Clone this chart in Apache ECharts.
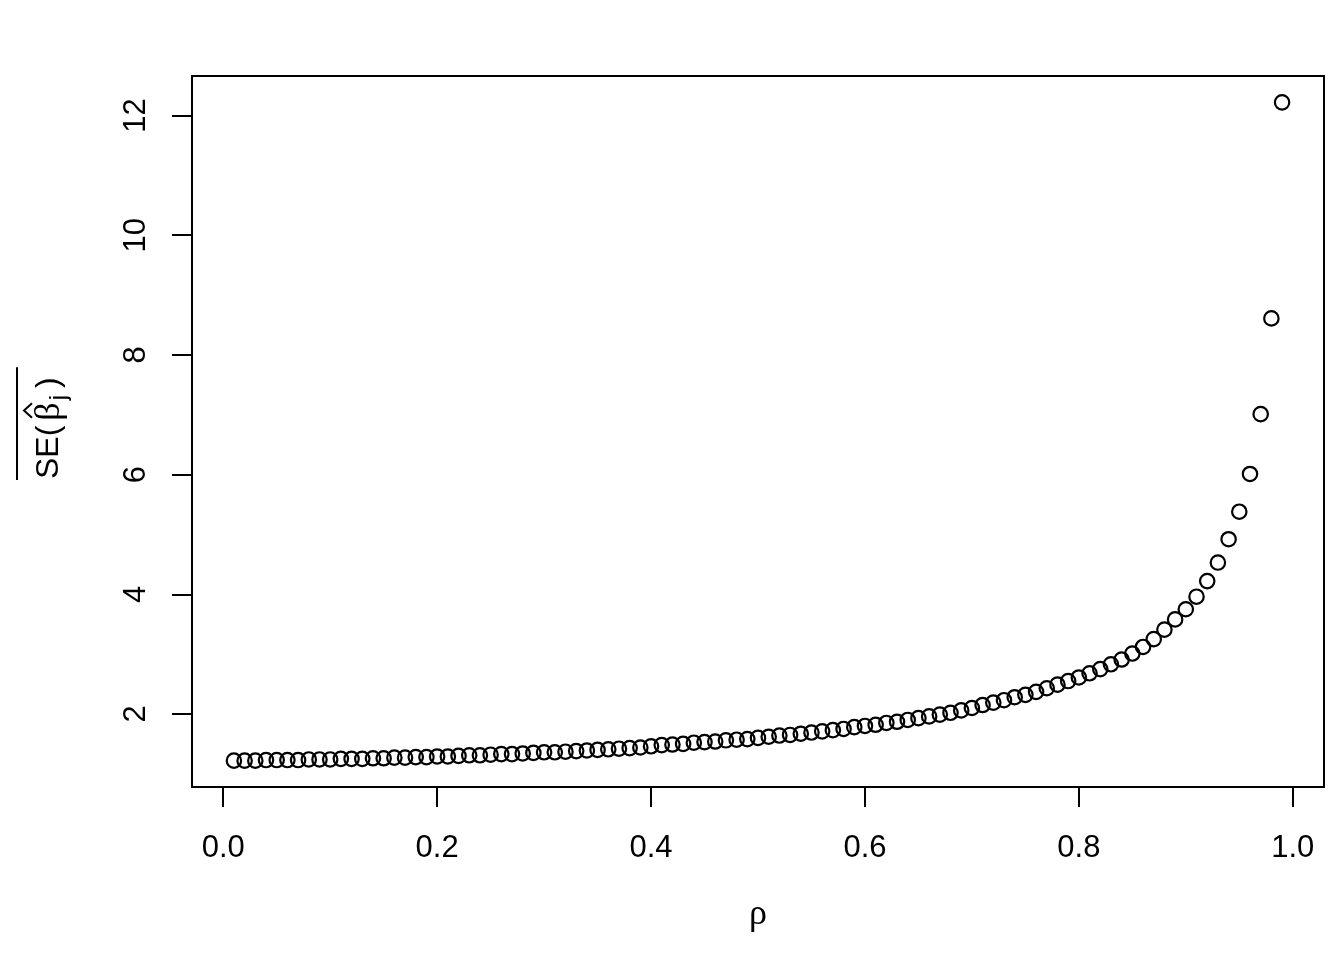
<!DOCTYPE html>
<html>
<head>
<meta charset="utf-8">
<script src="https://cdn.jsdelivr.net/npm/echarts@6/dist/echarts.min.js"></script>
<style>
html,body{margin:0;padding:0;background:#fff;}
#chart{width:1344px;height:960px;}
</style>
</head>
<body>
<div id="chart"></div>
<script>
// ---- data ----
const rho = [0.01,0.02,0.03,0.04,0.05,0.06,0.07,0.08,0.09,0.10,
  0.11,0.12,0.13,0.14,0.15,0.16,0.17,0.18,0.19,0.20,
  0.21,0.22,0.23,0.24,0.25,0.26,0.27,0.28,0.29,0.30,
  0.31,0.32,0.33,0.34,0.35,0.36,0.37,0.38,0.39,0.40,
  0.41,0.42,0.43,0.44,0.45,0.46,0.47,0.48,0.49,0.50,
  0.51,0.52,0.53,0.54,0.55,0.56,0.57,0.58,0.59,0.60,
  0.61,0.62,0.63,0.64,0.65,0.66,0.67,0.68,0.69,0.70,
  0.71,0.72,0.73,0.74,0.75,0.76,0.77,0.78,0.79,0.80,
  0.81,0.82,0.83,0.84,0.85,0.86,0.87,0.88,0.89,0.90,
  0.91,0.92,0.93,0.94,0.95,0.96,0.97,0.98,0.99];
const seMean = [1.22,1.22,1.22,1.23,1.23,1.23,1.23,1.24,1.24,1.24,
  1.25,1.25,1.25,1.26,1.26,1.27,1.27,1.28,1.28,1.29,
  1.29,1.30,1.31,1.31,1.32,1.33,1.33,1.34,1.35,1.36,
  1.36,1.37,1.38,1.39,1.40,1.41,1.42,1.43,1.44,1.46,
  1.48,1.49,1.50,1.52,1.53,1.54,1.56,1.57,1.58,1.60,
  1.62,1.64,1.65,1.67,1.69,1.71,1.73,1.75,1.78,1.80,
  1.82,1.85,1.87,1.90,1.93,1.96,1.99,2.02,2.06,2.10,
  2.15,2.19,2.23,2.28,2.32,2.37,2.43,2.49,2.55,2.61,
  2.68,2.75,2.83,2.91,3.01,3.12,3.25,3.41,3.58,3.75,
  3.96,4.22,4.53,4.92,5.38,6.01,7.01,8.61,12.22];
const xTicks = [0, 0.2, 0.4, 0.6, 0.8, 1.0];
const yTicks = [2, 4, 6, 8, 10, 12];
const xTickLabels = ['0.0', '0.2', '0.4', '0.6', '0.8', '1.0'];
const yTickLabels = ['2', '4', '6', '8', '10', '12'];
const xTitle = 'ρ';

// ---- layout ----
const GRID = {left: 192, top: 76, width: 1132, height: 711};
const FONT = '"Liberation Sans", Arial, Helvetica, sans-serif';
const SERIF = '"Liberation Serif", "DejaVu Serif", serif';

// R-style 4% extension of data ranges
const xr = [Math.min(...rho), Math.max(...rho)];
const yr = [Math.min(...seMean), Math.max(...seMean)];
const xPad = (xr[1] - xr[0]) * 0.04, yPad = (yr[1] - yr[0]) * 0.04;

const chart = echarts.init(document.getElementById('chart'), null, {renderer: 'canvas'});

// measure text for the y title
const ctx = document.createElement('canvas').getContext('2d');
function tw(txt, font) { ctx.font = font; return ctx.measureText(txt).width; }
const fMain = '32px ' + FONT, fGreek = '36px ' + SERIF, fSub = '24px ' + FONT;
const w1 = tw('SE(', fMain), wb = tw('β', fGreek), wj = tw('j', fSub), wp = tw(')', fMain);
const xb = w1 + 5, xj = xb + wb + 2, xp = xj + wj + 7;
const total = xp + wp;

const yTitle = {
  type: 'group',
  x: 49, y: 479,
  rotation: Math.PI / 2,
  children: [
    {type: 'text', x: 0, y: 0, style: {text: 'SE(', font: fMain, fill: '#000', verticalAlign: 'middle', align: 'left'}},
    {type: 'text', x: xb, y: 1, style: {text: 'β', font: fGreek, fill: '#000', verticalAlign: 'middle', align: 'left'}},
    {type: 'polyline', shape: {points: [[xb + 3, -17], [xb + wb / 2 + 1, -25], [xb + wb - 1, -17]]}, style: {stroke: '#000', lineWidth: 2, fill: null}},
    {type: 'text', x: xj, y: 10, style: {text: 'j', font: fSub, fill: '#000', verticalAlign: 'middle', align: 'left'}},
    {type: 'text', x: xp, y: 0, style: {text: ')', font: fMain, fill: '#000', verticalAlign: 'middle', align: 'left'}},
    {type: 'line', shape: {x1: -1, y1: -32, x2: total + 10, y2: -32}, style: {stroke: '#000', lineWidth: 2}}
  ]
};

const option = {
  backgroundColor: '#ffffff',
  animation: false,
  grid: Object.assign({show: true, borderColor: '#000', borderWidth: 2, backgroundColor: 'transparent'}, GRID),
  xAxis: {
    type: 'value',
    min: xr[0] - xPad, max: xr[1] + xPad,
    axisLine: {show: false, onZero: false},
    splitLine: {show: false},
    axisTick: {show: true, length: 20, inside: false, customValues: xTicks, lineStyle: {color: '#000', width: 2}},
    axisLabel: {show: true, customValues: xTicks, margin: 46, color: '#000', fontSize: 31, fontFamily: FONT,
      formatter: v => { const i = xTicks.findIndex(t => Math.abs(t - v) < 1e-9); return i >= 0 ? xTickLabels[i] : ''; }},
    name: xTitle, nameLocation: 'middle', nameGap: 110,
    nameTextStyle: {color: '#000', fontSize: 36, fontFamily: SERIF}
  },
  yAxis: {
    type: 'value',
    min: yr[0] - yPad, max: yr[1] + yPad,
    axisLine: {show: false, onZero: false},
    splitLine: {show: false},
    axisTick: {show: true, length: 20, inside: false, customValues: yTicks, lineStyle: {color: '#000', width: 2}},
    axisLabel: {show: true, customValues: yTicks, rotate: 90, margin: 40, color: '#000', fontSize: 31, fontFamily: FONT,
      formatter: v => { const i = yTicks.findIndex(t => Math.abs(t - v) < 1e-9); return i >= 0 ? yTickLabels[i] : ''; }}
  },
  series: [{
    type: 'scatter',
    data: rho.map((r, i) => [r, seMean[i]]),
    symbol: 'circle',
    symbolSize: 14.4,
    itemStyle: {color: 'transparent', borderColor: '#000', borderWidth: 2.2, opacity: 1},
    emphasis: {disabled: true},
    silent: true
  }],
  graphic: [yTitle]
};
chart.setOption(option);
</script>
</body>
</html>
